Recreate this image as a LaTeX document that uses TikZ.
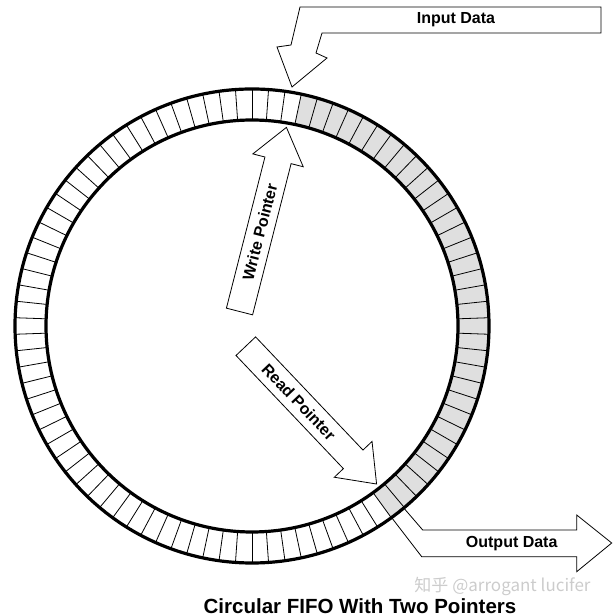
\documentclass[tikz,border=0pt]{standalone}
\usepackage{fontspec}
\setmainfont{Liberation Sans}
\newfontfamily\cjkfont{Noto Sans CJK SC}
\usepackage{tikz}

\tikzset{
  ring/.style={line width=3.2pt},
  cell/.style={line width=0.8pt},
  blockarrow/.style={draw, fill=white, line width=0.8pt, line join=miter},
  lbl/.style={font=\fontsize{16}{18}\selectfont\bfseries, inner sep=0pt},
}

\begin{document}
\begin{tikzpicture}[x=1pt,y=1pt]
\useasboundingbox (0,0) rectangle (616,615);

% output arrow goes under the ring
\draw[blockarrow] (396,116) -- (422.7,85) -- (576.7,85) -- (576.7,100) -- (611.7,72)
  -- (576.7,43.3) -- (576.7,58.3) -- (421.7,58.3) -- (385,106) -- cycle;
\node[lbl] (outlbl) at (511.7,71.7) {Output Data};

\begin{scope}[shift={(252,289)}]
  \fill[white,even odd rule] (0,0) circle (237) (0,0) circle (206);
  \fill[gray!25] (78:237) arc (78:-54:237) -- (-54:206) arc (-54:78:206) -- cycle;
  \foreach \a in {2,6,...,358}
    \draw[cell] (\a:206) -- (\a:237);
  \draw[ring] (0,0) circle (237);
  \draw[ring] (0,0) circle (206);
\end{scope}

% input arrow
\draw[blockarrow] (300,608) -- (601,608) -- (601,582) -- (322,582) -- (316,562)
  -- (327,557) -- (292,528) -- (277,568) -- (291,570) -- cycle;
\node[lbl] (inlbl) at (456,595) {Input Data};

% pointers
\begin{scope}[shift={(239.5,303.5)},rotate=75.7]
  \draw[blockarrow] (0,-13.5) -- (156,-13.5) -- (156,-26) -- (190,0) -- (156,26)
    -- (156,13.5) -- (0,13.5) -- cycle;
  \node[lbl,transform shape] (wlbl) at (82,0) {Write Pointer};
\end{scope}
\begin{scope}[shift={(245.8,268.8)},rotate=-46.5]
  \draw[blockarrow] (0,-13.5) -- (156,-13.5) -- (156,-26) -- (190,0) -- (156,26)
    -- (156,13.5) -- (0,13.5) -- cycle;
  \node[lbl,transform shape] (rlbl) at (77,0) {Read Pointer};
\end{scope}

\node[font=\fontsize{20.5}{24}\selectfont\bfseries, anchor=base, inner sep=0pt] (title)
  at (360,1.8) {Circular FIFO With Two Pointers};
\node[text=gray!40, font=\cjkfont\fontsize{17}{19}\selectfont, inner sep=0pt] (mark)
  at (502.5,28.3) {知乎 @arrogant lucifer};
\end{tikzpicture}
\end{document}
